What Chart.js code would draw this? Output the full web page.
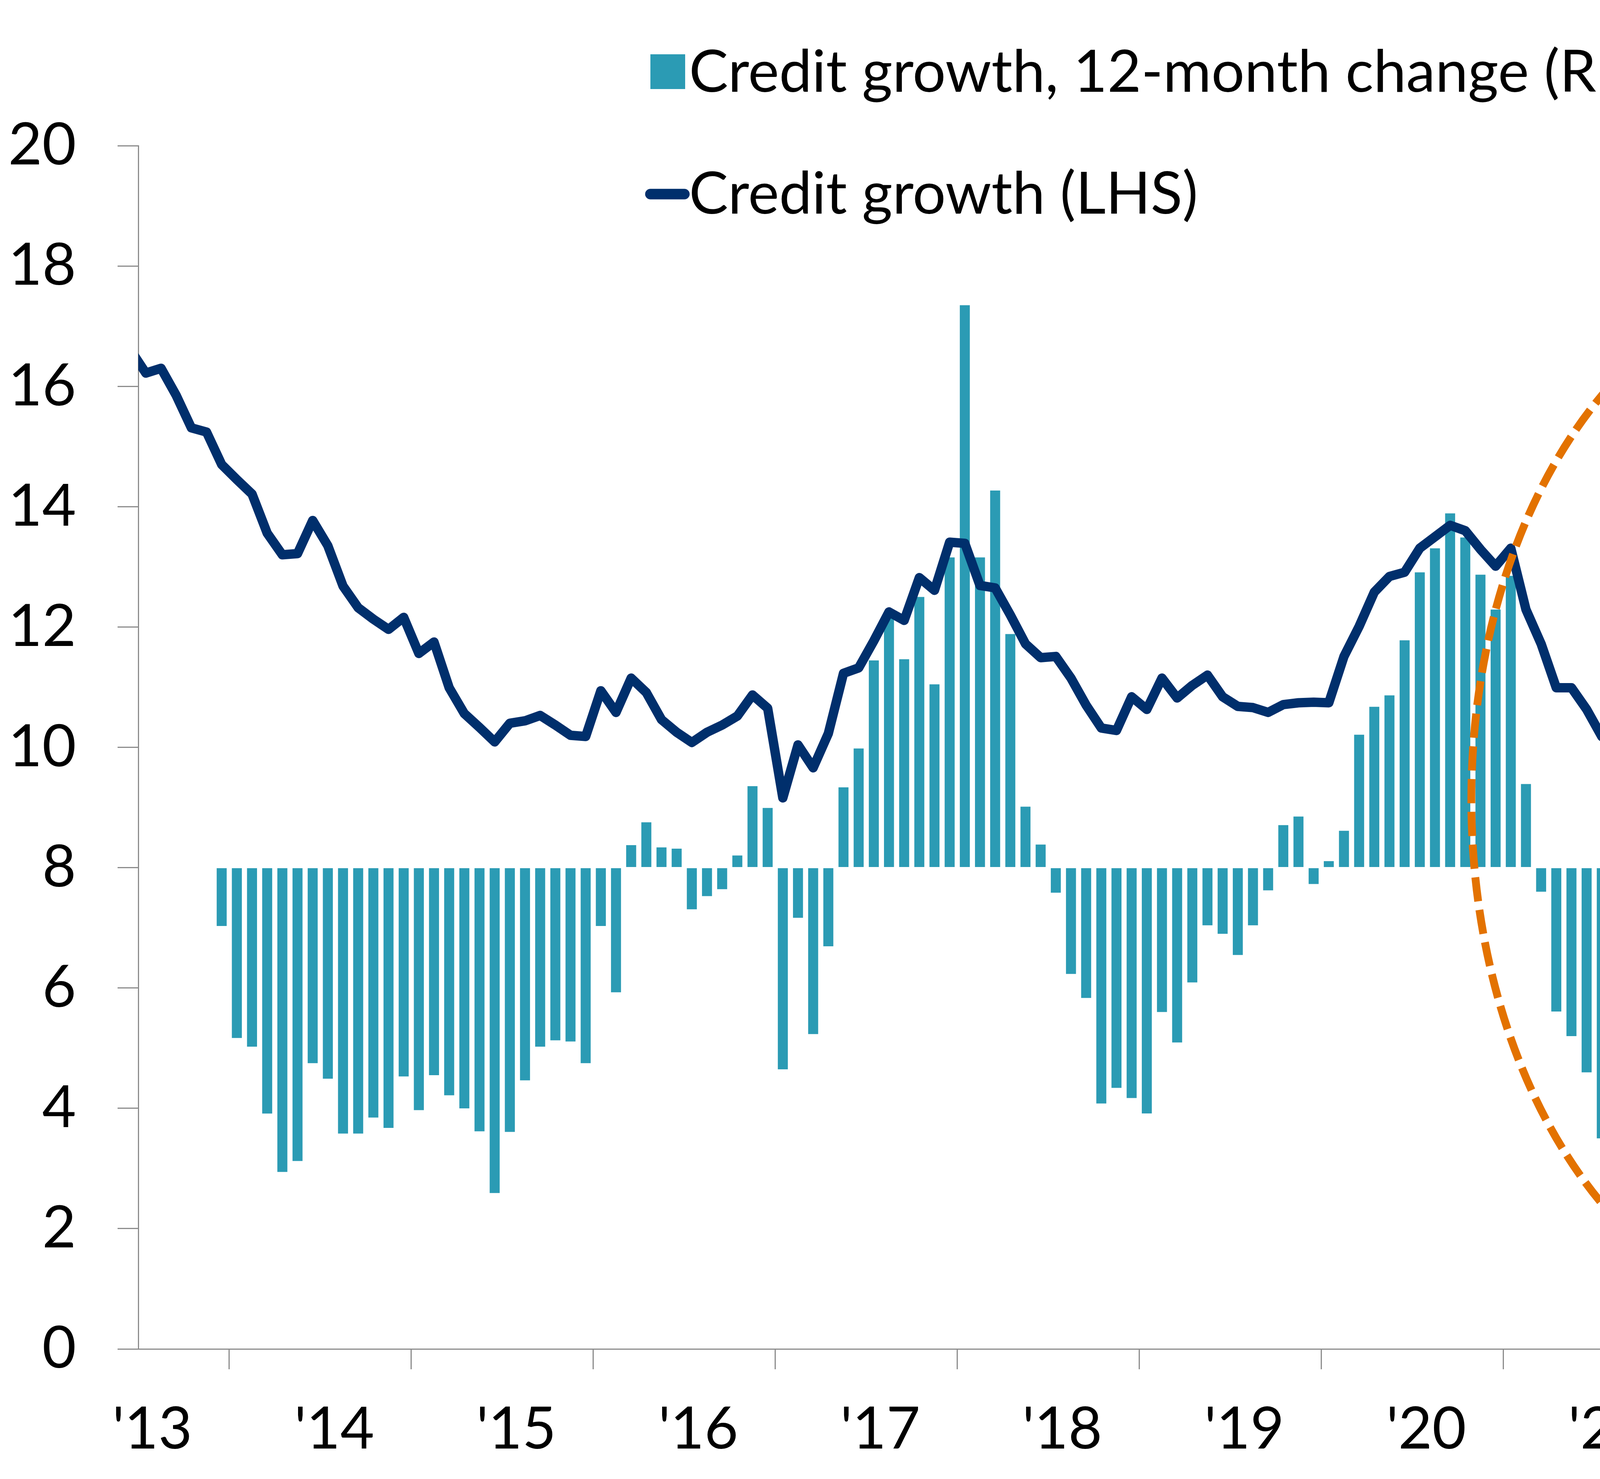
<!DOCTYPE html>
<html>
<head>
<meta charset="utf-8">
<script src="https://cdn.jsdelivr.net/npm/chart.js@4.4.1/dist/chart.umd.min.js"></script>
<style>
  html, body { margin: 0; padding: 0; background: #fff; overflow: hidden; }
  #wrap { position: relative; width: 5940px; height: 3787px; }
</style>
</head>
<body>
<div id="wrap"><canvas id="chart" width="5940" height="3787"></canvas></div>
<script>
// monthly series, first entry = Dec 2012, last = Jan 2024
const creditGrowth = [
    16.6,
    16.22, 16.30, 15.85, 15.31, 15.24, 14.70, 14.45, 14.21, 13.56, 13.20, 13.22, 13.77, // 2013
    13.35, 12.68, 12.32, 12.13, 11.96, 12.16, 11.56, 11.75, 10.99, 10.56, 10.33, 10.09, // 2014
    10.40, 10.44, 10.53, 10.37, 10.20, 10.18, 10.94, 10.58, 11.15, 10.91, 10.46, 10.25, // 2015
    10.08, 10.25, 10.37, 10.52, 10.87, 10.65, 9.16, 10.04, 9.66, 10.23, 11.23, 11.32,    // 2016
    11.77, 12.25, 12.11, 12.82, 12.61, 13.41, 13.39, 12.69, 12.65, 12.20, 11.72, 11.49, // 2017
    11.51, 11.15, 10.70, 10.32, 10.28, 10.84, 10.63, 11.15, 10.82, 11.03, 11.20, 10.84, // 2018
    10.68, 10.66, 10.58, 10.71, 10.74, 10.75, 10.74, 11.51, 12.01, 12.58, 12.84, 12.91, // 2019
    13.31, 13.50, 13.69, 13.60, 13.29, 13.01, 13.31, 12.29, 11.72, 10.99, 10.99, 10.63, // 2020
    10.18, 9.98, 9.98, 10.08, 10.28, 10.51, 10.20, 10.49, 10.25, 10.54, 10.77, 10.66,   // 2021
    10.51, 10.60, 10.30, 9.98, 9.58, 9.39, 9.87, 10.00, 10.00, 9.44, 8.97, 8.87,        // 2022
    9.33, 9.37, 9.60, 9.70, 9.87, 9.42, 8.94, 8.73, 8.35, 8.46, 8.14, 8.21,             // 2023
    8.13                                                                                 // 2024
];

const creditChange12m = [
    null,
    null, null, null, null, null, -4.85, -14.16, -14.88, -20.44, -25.29, -24.38, -16.25, // 2013
    -17.54, -22.10, -22.10, -20.77, -21.63, -17.35, -20.15, -17.25, -18.92, -20.01, -21.91, -27.04, // 2014
    -21.96, -17.68, -14.88, -14.35, -14.45, -16.25, -4.85, -10.36, 1.87, 3.77, 1.68, 1.58, // 2015
    -3.46, -2.37, -1.79, 1.01, 6.77, 4.96, -16.76, -4.17, -13.83, -6.54, 6.67, 9.90,   // 2016
    17.22, 20.74, 17.32, 22.50, 15.23, 25.78, 46.74, 25.78, 31.34, 19.41, 5.07, 1.92,  // 2017
    -2.08, -8.83, -10.83, -19.60, -18.30, -19.15, -20.43, -12.00, -14.53, -9.54, -4.79, -5.50, // 2018
    -7.26, -4.79, -1.89, 3.53, 4.25, -1.36, 0.54, 3.06, 11.05, 13.37, 14.32, 18.89,    // 2019
    24.54, 26.54, 29.44, 27.44, 24.35, 21.45, 24.25, 6.95, -2.0, -11.96, -14.0, -17.01, // 2020
    -22.5, -25.9, -26.96, -25.66, -22.5, -19.2, -23.27, -14.6, -12.8, -4.54, -1.81, 0,  // 2021
    1.94, 6.0, 3.0, -1.0, -6.8, -10.45, -2.92, -4.76, -1.96, -9.47, -16.6, -16.76,     // 2022
    -11.28, -11.7, -6.84, -3.22, 2.53, 1.2, -9.4, -12.73, -16.7, -11.1, -9.8, -7.95,   // 2023
    -12.6                                                                               // 2024
];

const yearLabels = ["'13", "'14", "'15", "'16", "'17", "'18", "'19", "'20", "'21", "'22", "'23", "'24"];

const BAR_LABEL = "Credit growth, 12-month change (RHS)";
const LINE_LABEL = "Credit growth (LHS)";

const BAR_COLOR = "#2B9BB4";
const LINE_COLOR = "#002F6C";
const RING_COLOR = "#E37200";
const AXIS_COLOR = "#8C8C8C";
const FONT = "Lato";

// month slot i sits mid-month, counted in months from Jan 2013
const monthX = i => i - 0.5;

// orange ring marking the post-2020 slowdown (x in months, y on right axis)
const ring = {cx: 111.1, cy: 5.67, rx: 23.2, ry: 43.2};

const ringPlugin = {
    id: "ring",
    afterDraw(chart) {
        const xs = chart.scales.x, ys = chart.scales.y1;
        const cx = xs.getPixelForValue(ring.cx);
        const cy = ys.getPixelForValue(ring.cy);
        const rx = xs.getPixelForValue(ring.cx + ring.rx) - cx;
        const ry = cy - ys.getPixelForValue(ring.cy + ring.ry);
        const ctx = chart.ctx;
        ctx.save();
        ctx.strokeStyle = RING_COLOR;
        ctx.lineWidth = 20;
        ctx.setLineDash([62, 22]);
        ctx.lineCap = "butt";
        ctx.beginPath();
        ctx.ellipse(cx, cy, rx, ry, 0, 0, Math.PI * 2);
        ctx.stroke();
        ctx.restore();
    }
};

// two-row legend above the plot
const legendPlugin = {
    id: "stackedLegend",
    afterDraw(chart) {
        const ctx = chart.ctx;
        const bars = chart.data.datasets[1], line = chart.data.datasets[0];
        ctx.save();
        ctx.font = "150px " + FONT;
        ctx.textBaseline = "alphabetic";
        ctx.textAlign = "left";

        ctx.fillStyle = bars.backgroundColor;
        ctx.fillRect(1665, 139, 89, 89);
        ctx.fillStyle = "#000";
        ctx.fillText(bars.label, 1764, 235);

        ctx.strokeStyle = line.borderColor;
        ctx.lineWidth = 27;
        ctx.lineCap = "round";
        ctx.beginPath();
        ctx.moveTo(1665, 497);
        ctx.lineTo(1752, 497);
        ctx.stroke();
        ctx.fillStyle = "#000";
        ctx.fillText(line.label, 1764, 547);
        ctx.restore();
    }
};

const lineData = creditGrowth.map((v, i) => ({x: monthX(i), y: v}));
const barData = creditChange12m.map((v, i) => ({x: monthX(i), y: v}));

const axisCommon = {
    border: {display: true, color: AXIS_COLOR, width: 3},
    grid: {drawOnChartArea: false, drawTicks: true, color: AXIS_COLOR, lineWidth: 3, tickWidth: 3},
};

Chart.defaults.font.family = FONT;
Chart.defaults.font.size = 150;
Chart.defaults.color = "#000";

new Chart(document.getElementById("chart").getContext("2d"), {
    type: "bar",
    data: {
        datasets: [
            {
                type: "line",
                label: LINE_LABEL,
                data: lineData,
                yAxisID: "y",
                borderColor: LINE_COLOR,
                backgroundColor: LINE_COLOR,
                borderWidth: 24,
                borderJoinStyle: "round",
                borderCapStyle: "round",
                pointRadius: 0,
                tension: 0,
                fill: false,
                clip: 0,
            },
            {
                type: "bar",
                label: BAR_LABEL,
                data: barData,
                yAxisID: "y1",
                backgroundColor: BAR_COLOR,
                borderWidth: 0,
                categoryPercentage: 1.0,
                barPercentage: 0.66,
            },
        ],
    },
    options: {
        responsive: false,
        devicePixelRatio: 1,
        animation: false,
        layout: {padding: {top: 373, left: 0, right: 0, bottom: 0}},
        plugins: {
            legend: {display: false},
            tooltip: {enabled: false},
        },
        scales: {
            x: {
                type: "linear",
                offset: false,
                min: 0,
                max: 133.06,
                ...axisCommon,
                grid: {...axisCommon.grid, tickLength: 52},
                ticks: {
                    stepSize: 12,
                    includeBounds: false,
                    autoSkip: false,
                    maxRotation: 0,
                    padding: 65,
                    labelOffset: 36,
                    font: {size: 150},
                    callback: v => yearLabels[Math.round(v / 12)],
                },
                afterFit: s => { s.height = 3787 - 3454; },
            },
            y: {
                position: "left",
                min: 0,
                max: 20,
                ...axisCommon,
                grid: {...axisCommon.grid, tickLength: 53},
                ticks: {stepSize: 2, padding: 106, font: {size: 150}},
                afterFit: s => { s.width = 354; },
            },
            y1: {
                position: "right",
                min: -40,
                max: 60,
                ...axisCommon,
                grid: {...axisCommon.grid, tickLength: 52},
                ticks: {stepSize: 10, padding: 104, font: {size: 150}},
                afterFit: s => { s.width = 5940 - 5520; },
            },
        },
    },
    plugins: [ringPlugin, legendPlugin],
});
</script>
</body>
</html>
